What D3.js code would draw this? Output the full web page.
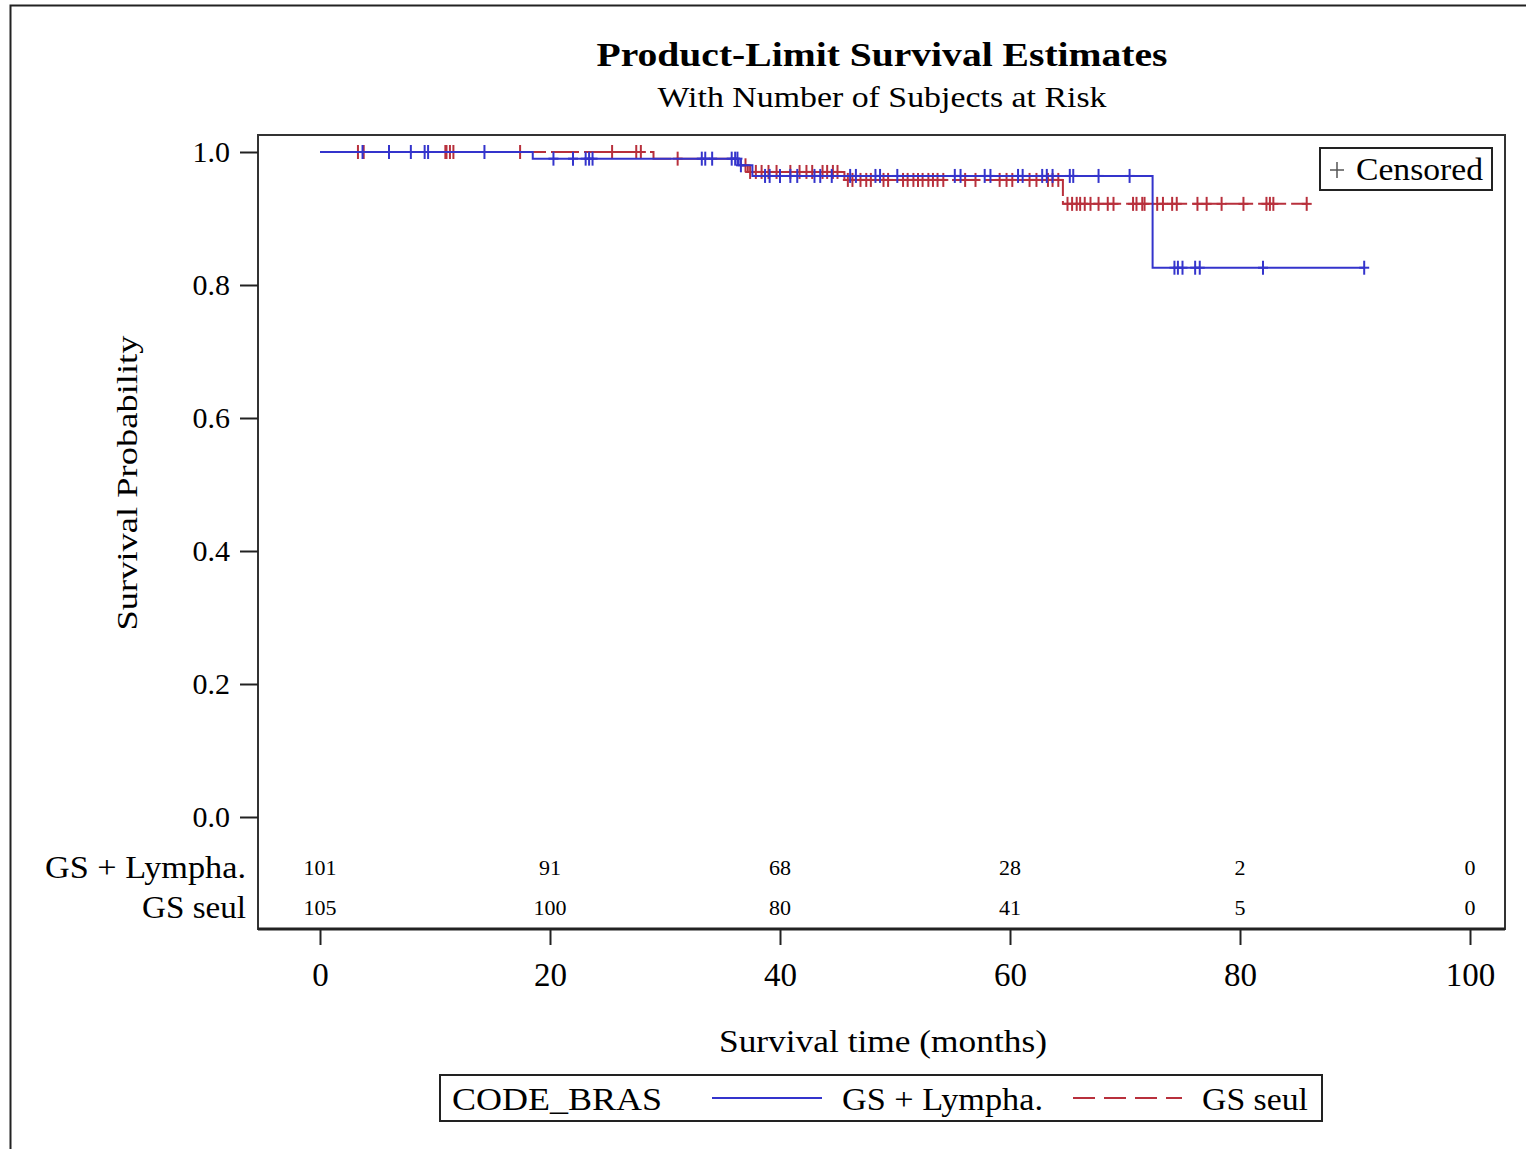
<!DOCTYPE html>
<html><head><meta charset="utf-8">
<script src="https://cdn.jsdelivr.net/npm/d3@7"></script>
<style>
html,body{margin:0;padding:0;background:#fff;}
svg text{font-family:"Liberation Serif",Tinos,"Times New Roman",Times,"Nimbus Roman","Noto Serif",serif;fill:#000;}
</style></head>
<body>
<svg id="chart" width="1526" height="1149"></svg>
<script>
// ---------- data ----------
const groups = ["GS + Lympha.", "GS seul"];
const xTicks = [0, 20, 40, 60, 80, 100];
const yTicks = [0.0, 0.2, 0.4, 0.6, 0.8, 1.0];
// step changes: [time (months), survival]
const stepsLympha = [[0,1.0],[18.5,0.990],[36.4,0.980],[37.6,0.964],[72.4,0.826]];
const endLympha = 90.8;
const stepsSeul = [[0,1.0],[29.0,0.990],[36.6,0.980],[37.2,0.970],[45.6,0.958],[64.6,0.922]];
const endSeul = 85.8;
const censLympha = [3.7,6.0,7.9,9.1,9.4,14.3,20.3,22.0,23.1,23.4,23.7,33.2,33.5,34.1,35.8,36.1,36.3,36.6,
  38.7,39.1,40.0,40.9,41.5,43.0,43.5,44.5,46.1,46.6,48.3,48.7,50.2,55.2,55.7,57.8,58.3,60.7,61.1,
  62.8,63.2,63.7,65.2,65.5,67.7,70.4,74.3,74.6,75.0,76.1,76.5,82.0,90.8];
const censSeul = [3.3,3.8,6.0,10.9,11.0,11.3,11.6,17.4,25.4,27.5,27.9,31.1,37.0,37.4,37.9,38.4,39.0,39.7,
  40.9,41.7,42.3,42.8,43.7,44.1,44.6,45.0,45.9,46.3,47.0,47.5,47.9,49.0,49.4,50.7,51.1,51.6,52.0,
  52.4,52.9,53.3,53.7,54.2,56.1,57.0,59.1,59.7,60.2,61.7,62.3,63.3,63.7,64.2,65.0,65.4,65.8,66.1,
  66.5,67.0,67.7,68.5,69.0,70.7,71.0,71.5,71.7,72.8,73.3,74.1,74.5,76.3,77.1,78.4,80.3,82.3,82.6,82.9,85.8];
const riskTimes = [0, 20, 40, 60, 80, 100];
const riskLympha = [101, 91, 68, 28, 2, 0];
const riskSeul = [105, 100, 80, 41, 5, 0];

// ---------- layout ----------
const svg = d3.select("#chart");
const colBlue = "#3434cc", colRed = "#b8303c";
const frame = {l:258, t:135, r:1505, b:929};
const x = d3.scaleLinear().domain([0,100]).range([320,1470]);
const y = d3.scaleLinear().domain([0,1]).range([817,152]);

// outer border
svg.append("path").attr("d","M10.5,1149 L10.5,5.5 L1526,5.5").attr("fill","none").attr("stroke","#222").attr("stroke-width",2);

// title
svg.append("text").attr("x",882).attr("y",66).attr("text-anchor","middle")
  .attr("font-size",33).attr("font-weight","bold").attr("textLength",571).attr("lengthAdjust","spacingAndGlyphs")
  .text("Product-Limit Survival Estimates");
svg.append("text").attr("x",882).attr("y",107).attr("text-anchor","middle")
  .attr("font-size",29).attr("textLength",449).attr("lengthAdjust","spacingAndGlyphs")
  .text("With Number of Subjects at Risk");

// frame
svg.append("rect").attr("x",frame.l).attr("y",frame.t).attr("width",frame.r-frame.l).attr("height",frame.b-frame.t)
  .attr("fill","none").attr("stroke","#333").attr("stroke-width",2);
svg.append("line").attr("x1",frame.l).attr("x2",frame.r).attr("y1",frame.b).attr("y2",frame.b)
  .attr("stroke","#222").attr("stroke-width",3);

// y axis
const yAxis = d3.axisLeft(y).tickValues(yTicks).tickFormat(d3.format(".1f")).tickSize(18).tickPadding(10);
const gy = svg.append("g").attr("transform",`translate(${frame.l},0)`).call(yAxis);
gy.attr("font-family",null);
gy.select(".domain").remove();
gy.selectAll(".tick line").attr("stroke","#222").attr("stroke-width",2);
gy.selectAll(".tick text").attr("font-size",30).attr("fill","#000");

svg.append("text").attr("transform","translate(137,483) rotate(-90)").attr("text-anchor","middle")
  .attr("font-size",30).attr("textLength",295).attr("lengthAdjust","spacingAndGlyphs").text("Survival Probability");

// x axis
const xAxis = d3.axisBottom(x).tickValues(xTicks).tickSize(16).tickPadding(18);
const gx = svg.append("g").attr("transform",`translate(0,${frame.b})`).call(xAxis);
gx.attr("font-family",null);
gx.select(".domain").remove();
gx.selectAll(".tick line").attr("stroke","#222").attr("stroke-width",2);
gx.selectAll(".tick text").attr("font-size",33).attr("fill","#000");

svg.append("text").attr("x",883).attr("y",1052).attr("text-anchor","middle")
  .attr("font-size",32).attr("textLength",328).attr("lengthAdjust","spacingAndGlyphs").text("Survival time (months)");

// risk table
const riskRows = [{name:groups[0], vals:riskLympha, yy:868, w:201},{name:groups[1], vals:riskSeul, yy:908, w:104}];
riskRows.forEach(r=>{
  svg.append("text").attr("x",246).attr("y",r.yy+10).attr("text-anchor","end").attr("font-size",31)
    .attr("textLength",r.w).attr("lengthAdjust","spacingAndGlyphs").text(r.name);
  svg.selectAll(null).data(riskTimes.map((t,i)=>({t,v:r.vals[i]}))).enter().append("text")
    .attr("x",d=>x(d.t)).attr("y",r.yy+7).attr("text-anchor","middle").attr("font-size",22).text(d=>d.v);
});

// curves
function survAt(steps, t){ let s=1; for(const [tt,v] of steps){ if(tt<=t) s=v; } return s; }
const line = d3.line().x(d=>x(d[0])).y(d=>y(d[1])).curve(d3.curveStepAfter);
function drawGroup(steps, end, cens, col, dash){
  const pts = steps.concat([[end, steps[steps.length-1][1]]]);
  svg.append("path").datum(pts).attr("d",line).attr("fill","none").attr("stroke",col)
    .attr("stroke-width",2).attr("stroke-dasharray",dash);
  const g = svg.append("g").attr("stroke",col).attr("stroke-width",2);
  cens.forEach(t=>{
    const cx = x(t), cy = y(survAt(steps,t));
    g.append("line").attr("x1",cx).attr("x2",cx).attr("y1",cy-7).attr("y2",cy+7);
    g.append("line").attr("x1",cx-5).attr("x2",cx+5).attr("y1",cy).attr("y2",cy);
  });
}
drawGroup(stepsSeul, endSeul, censSeul, colRed, "28,5");
drawGroup(stepsLympha, endLympha, censLympha, colBlue, null);

// censored legend
svg.append("rect").attr("x",1320).attr("y",148).attr("width",172).attr("height",42)
  .attr("fill","#fff").attr("stroke","#222").attr("stroke-width",2);
svg.append("line").attr("x1",1337).attr("x2",1337).attr("y1",162).attr("y2",178).attr("stroke","#555").attr("stroke-width",1.5);
svg.append("line").attr("x1",1330).attr("x2",1344).attr("y1",170).attr("y2",170).attr("stroke","#555").attr("stroke-width",1.5);
svg.append("text").attr("x",1356).attr("y",180).attr("font-size",31).attr("textLength",127).attr("lengthAdjust","spacingAndGlyphs").text("Censored");

// group legend
svg.append("rect").attr("x",440).attr("y",1075).attr("width",882).attr("height",46)
  .attr("fill","#fff").attr("stroke","#222").attr("stroke-width",2);
svg.append("text").attr("x",452).attr("y",1110).attr("font-size",31).attr("textLength",210).attr("lengthAdjust","spacingAndGlyphs").text("CODE_BRAS");
svg.append("line").attr("x1",712).attr("x2",822).attr("y1",1098).attr("y2",1098).attr("stroke",colBlue).attr("stroke-width",2);
svg.append("text").attr("x",842).attr("y",1110).attr("font-size",31).attr("textLength",201).attr("lengthAdjust","spacingAndGlyphs").text(groups[0]);
svg.append("line").attr("x1",1073).attr("x2",1182).attr("y1",1098).attr("y2",1098).attr("stroke",colRed).attr("stroke-width",2).attr("stroke-dasharray","22,9");
svg.append("text").attr("x",1202).attr("y",1110).attr("font-size",31).attr("textLength",106).attr("lengthAdjust","spacingAndGlyphs").text(groups[1]);
</script>
</body></html>
